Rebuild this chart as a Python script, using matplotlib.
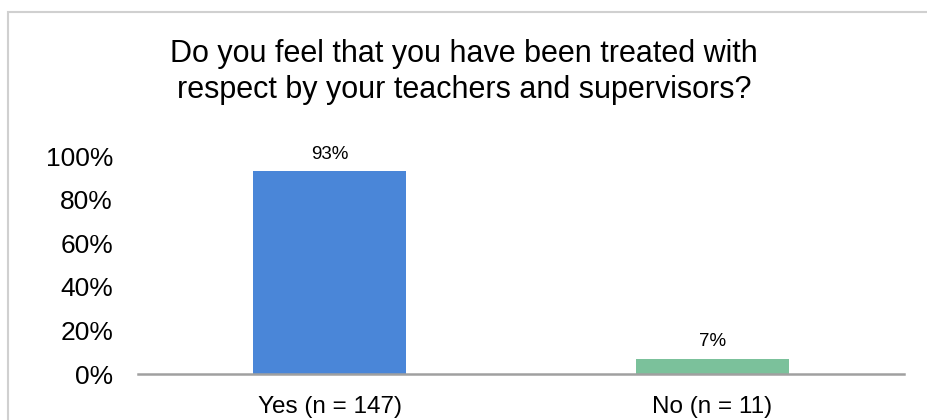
import matplotlib.pyplot as plt
from matplotlib.patches import Rectangle
from matplotlib.ticker import PercentFormatter

plt.rcParams['font.family'] = ['Liberation Sans', 'DejaVu Sans']

# Данные опроса
categories = ['Yes (n = 147)', 'No (n = 11)']
shares = [0.93, 0.07]
bar_labels = ['93%', '7%']
colors = ['#4a86d8', '#7bc19b']

fig = plt.figure(figsize=(9.28, 4.2), dpi=100)

# светло-серая рамка вокруг диаграммы
fig.patches.append(Rectangle((8 / 928, -0.1), 1.1, (420 - 12) / 420 + 0.1,
                             transform=fig.transFigure, fill=False,
                             edgecolor='#d0d0d0', linewidth=1.5))

ax = fig.add_axes([138 / 928, 46 / 420, 766 / 928, 218 / 420])
x = range(len(categories))
bars = ax.bar(x, shares, width=0.4, color=colors)

ax.set_xlim(-0.5, 1.5)
ax.set_ylim(0, 1)
ax.set_yticks([0, 0.2, 0.4, 0.6, 0.8, 1.0])
ax.yaxis.set_major_formatter(PercentFormatter(1.0, decimals=0))
ax.set_xticks(list(x))
ax.set_xticklabels(categories)
ax.tick_params(axis='y', length=0, pad=18, labelsize=19)
ax.tick_params(axis='x', length=0, pad=16, labelsize=17.5)

for side in ['top', 'right', 'left']:
    ax.spines[side].set_visible(False)
ax.spines['bottom'].set_color('#a0a0a0')
ax.spines['bottom'].set_linewidth(1.8)

for b, lab in zip(bars, bar_labels):
    ax.annotate(lab, (b.get_x() + b.get_width() / 2, b.get_height()),
                xytext=(0, 6), textcoords='offset points',
                ha='center', va='bottom', fontsize=13.5)

fig.text(0.5, 1 - 98 / 420, 'Do you feel that you have been treated with\n'
         'respect by your teachers and supervisors?',
         ha='center', va='baseline', fontsize=22, linespacing=1.25)

fig.savefig('out.png', dpi=100)
